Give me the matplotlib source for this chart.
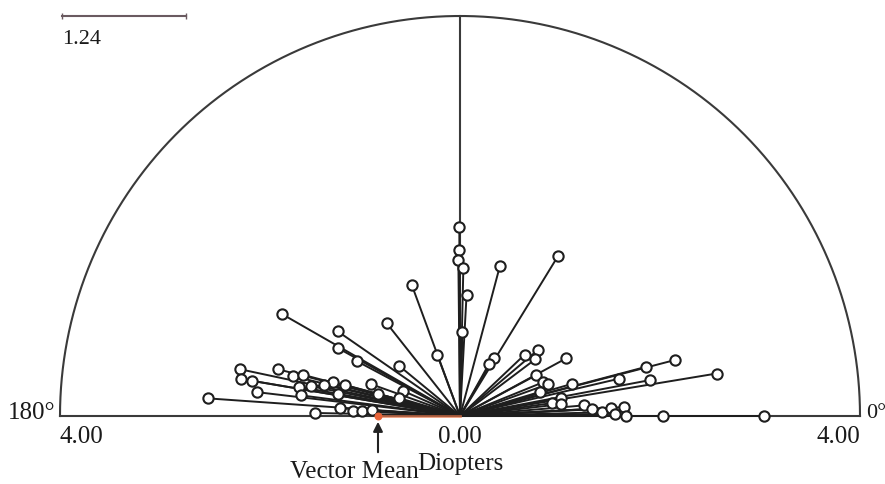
import numpy as np
import matplotlib
matplotlib.use("Agg")
import matplotlib.pyplot as plt

plt.rcParams['font.family'] = ['Liberation Serif', 'DejaVu Serif']

# Astigmatism vectors: magnitude (diopters) and axis (degrees)
magnitude = [1.89, 1.66, 1.56, 1.48, 1.21, 0.84, 1.40, 1.18, 1.55, 1.88,
             2.05, 1.49, 1.40, 0.65, 1.17, 0.79, 2.25, 1.88, 1.72, 1.62,
             2.22, 2.11, 1.31, 1.40, 1.19, 0.95, 1.64, 1.52, 0.62, 2.04,
             1.60, 1.24, 0.85, 0.64, 2.53, 1.20, 1.07, 0.98, 0.88, 1.45,
             0.67, 0.59, 0.89, 1.02, 0.94, 1.21, 2.22, 1.92, 2.60, 0.86,
             0.90, 0.94, 1.16, 1.63, 1.93, 0.84, 1.03, 0.93, 1.02, 1.24,
             1.32, 1.42, 1.51, 1.64, 1.55, 1.66, 2.03, 3.04]
axis_deg = [90.2, 90.2, 90.6, 88.7, 86.9, 88.3, 110.2, 128.3, 75.1, 58.5,
            150.2, 145.3, 150.9, 110.4, 152.0, 140.5, 168.0, 165.6, 166.6, 165.3,
            170.4, 170.4, 165.0, 167.0, 164.9, 160.3, 169.7, 168.7, 156.2, 173.3,
            172.6, 170.0, 164.9, 163.6, 176.0, 176.3, 177.2, 176.9, 176.3, 178.8,
            60.0, 60.9, 43.5, 40.3, 37.0, 28.5, 14.6, 14.8, 9.4, 28.2,
            22.1, 19.9, 16.0, 13.2, 10.7, 16.8, 9.9, 8.0, 6.7, 4.9,
            2.9, 1.5, 3.1, 3.1, 0.8, 0.0, 0.0, 0.0]

vector_mean_mag = 0.82
vector_mean_axis = 180.0
max_radius = 4.00
scale_bar_value = 1.24

fig = plt.figure(figsize=(8.85, 4.84), dpi=100)
ax = fig.add_axes([0, 0, 1, 1])
ax.set_xlim(-4.6, 4.25)
ax.set_ylim(-0.68, 4.16)
ax.set_aspect('equal')
ax.axis('off')

frame_col = '#3a3a3a'
line_col = '#1e1e1e'
text_col = '#1a1a1a'
fs = 18

# semicircle frame
t = np.linspace(0, np.pi, 400)
ax.plot(max_radius * np.cos(t), max_radius * np.sin(t), color=frame_col, lw=1.5, zorder=1)
ax.plot([-max_radius, max_radius], [0, 0], color=frame_col, lw=1.5, zorder=1)
ax.plot([0, 0], [0, max_radius], color=frame_col, lw=1.5, zorder=1)

# vectors
th = np.deg2rad(np.array(axis_deg))
r = np.array(magnitude)
xs = r * np.cos(th)
ys = r * np.sin(th)
for x, y in zip(xs, ys):
    ax.plot([0, x], [0, y], color=line_col, lw=1.4, zorder=2, solid_capstyle='round')
ax.scatter(xs, ys, s=55, facecolor='white', edgecolor=line_col, linewidth=1.5, zorder=3)

# vector mean
vmx = vector_mean_mag * np.cos(np.deg2rad(vector_mean_axis))
vmy = vector_mean_mag * np.sin(np.deg2rad(vector_mean_axis))
ax.plot([0, vmx], [0, vmy], color='#e8774a', lw=2.0, alpha=0.7, zorder=4)
ax.scatter([vmx], [vmy], s=22, color='#e8643a', zorder=5)
ax.annotate('', xy=(vmx, -0.03), xytext=(vmx, -0.39),
            arrowprops=dict(arrowstyle='-|>', color='#222222', lw=1.5,
                            mutation_scale=14), zorder=5)
ax.text(vmx - 0.24, -0.56, 'Vector Mean', ha='center', va='center', fontsize=fs, color=text_col)

# labels
ax.text(-max_radius, -0.21, f'{max_radius:.2f}', ha='left', va='center', fontsize=fs, color=text_col)
ax.text(max_radius, -0.21, f'{max_radius:.2f}', ha='right', va='center', fontsize=fs, color=text_col)
ax.text(0, -0.21, '0.00', ha='center', va='center', fontsize=fs, color=text_col)
ax.text(0, -0.48, 'Diopters', ha='center', va='center', fontsize=fs, color=text_col)
ax.text(-max_radius - 0.05, 0.03, '180°', ha='right', va='center', fontsize=fs, color=text_col)
ax.text(max_radius + 0.06, 0.03, '0°', ha='left', va='center', fontsize=16, color=text_col)

# scale bar
sb_x0 = -3.98
sb_y = 4.00
ax.plot([sb_x0, sb_x0 + scale_bar_value], [sb_y, sb_y], color='#6a5a60', lw=1.5,
        marker='|', markersize=4, zorder=2)
ax.text(sb_x0, sb_y - 0.24, f'{scale_bar_value:.2f}', ha='left', va='center', fontsize=16, color=text_col)

fig.savefig('out.png', dpi=100)
